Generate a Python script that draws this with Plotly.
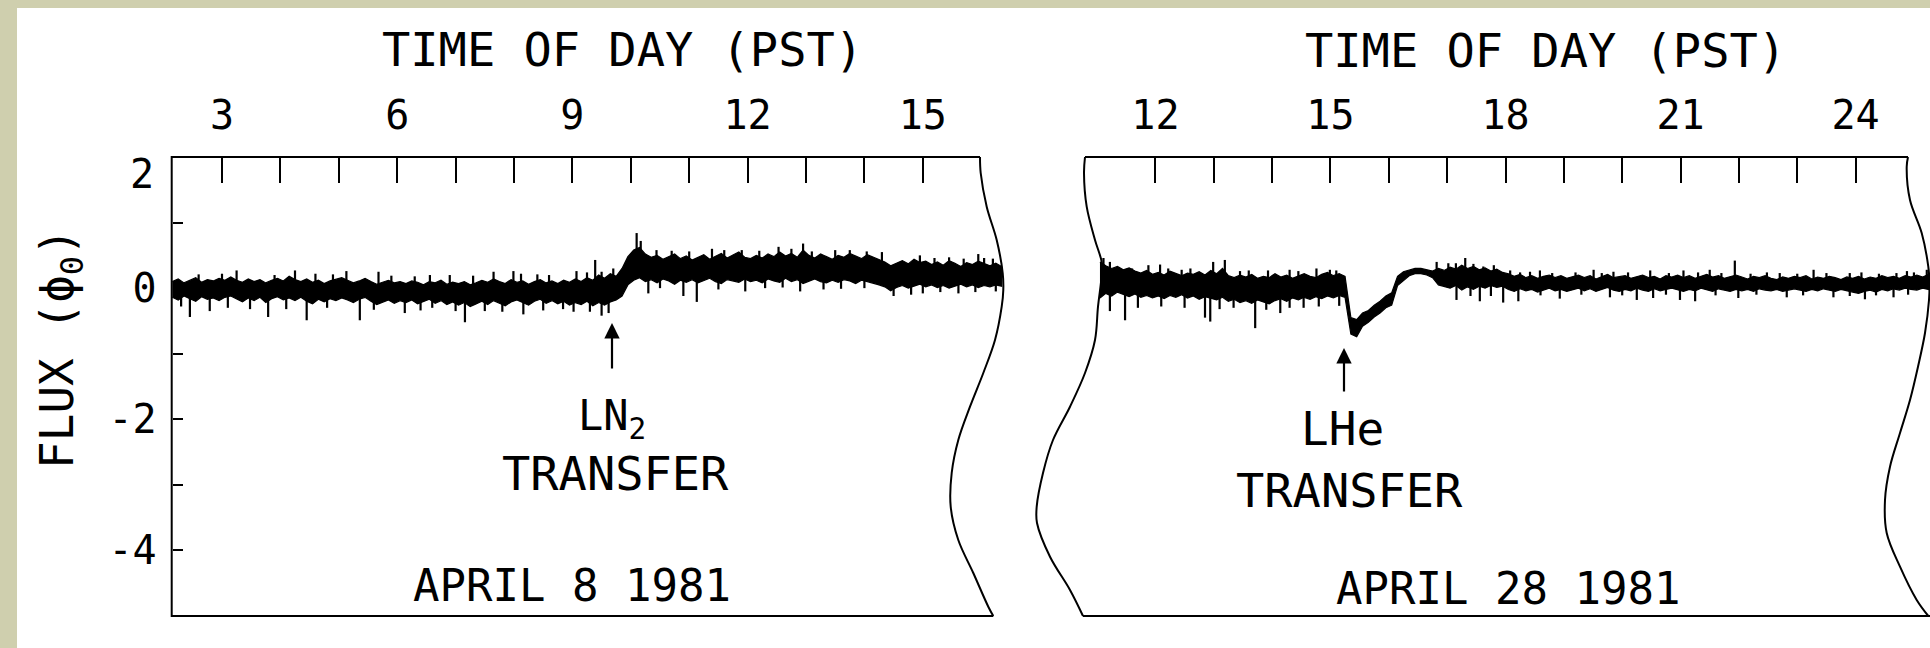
import numpy as np
import plotly.graph_objects as go

W, H = 1930, 648
FONT = "DejaVu Sans Mono, Liberation Mono, monospace"
TICK_FONT = "DejaVu Sans Mono, Liberation Mono, monospace"

# ---------------- data ----------------
# April 8 1981 : SQUID flux record (phi_0) vs time of day, sampled every 0.1 h
apr8_hours = [round(2.15 + 0.1 * i, 2) for i in range(143)]
apr8_upper = [
    0.10, 0.14, 0.08, 0.12, 0.16, 0.09, 0.13, 0.11, 0.15, 0.12,
    0.17, 0.12, 0.09, 0.14, 0.10, 0.13, 0.08, 0.12, 0.15, 0.11,
    0.18, 0.13, 0.10, 0.14, 0.09, 0.12, 0.07, 0.11, 0.13, 0.16,
    0.12, 0.08, 0.11, 0.15, 0.10, 0.06, 0.09, 0.12, 0.08, 0.10,
    0.07, 0.11, 0.09, 0.05, 0.10, 0.08, 0.12, 0.06, 0.09, 0.07,
    0.10, 0.05, 0.08, 0.12, 0.09, 0.14, 0.10, 0.07, 0.13, 0.09,
    0.11, 0.06, 0.10, 0.13, 0.08, 0.11, 0.07, 0.12, 0.09, 0.14,
    0.10, 0.16, 0.12, 0.20, 0.15, 0.22, 0.18, 0.30, 0.48, 0.58,
    0.62, 0.52, 0.47, 0.50, 0.44, 0.48, 0.52, 0.45, 0.49, 0.43,
    0.47, 0.51, 0.44, 0.48, 0.53, 0.46, 0.50, 0.55, 0.47, 0.45,
    0.50, 0.46, 0.52, 0.48, 0.55, 0.49, 0.53, 0.47, 0.58, 0.50,
    0.46, 0.52, 0.48, 0.44, 0.50, 0.47, 0.53, 0.49, 0.45, 0.51,
    0.47, 0.43, 0.40, 0.34, 0.38, 0.42, 0.37, 0.44, 0.39, 0.41,
    0.36, 0.40, 0.35, 0.42, 0.38, 0.33, 0.39, 0.36, 0.41, 0.37,
    0.34, 0.38, 0.33,
]
apr8_lower = [
    -0.14, -0.18, -0.12, -0.16, -0.20, -0.13, -0.17, -0.15, -0.19, -0.14,
    -0.12, -0.17, -0.21, -0.15, -0.19, -0.14, -0.22, -0.16, -0.13, -0.18,
    -0.15, -0.19, -0.14, -0.20, -0.24, -0.17, -0.21, -0.16, -0.19, -0.15,
    -0.18, -0.22, -0.17, -0.14, -0.20, -0.25, -0.21, -0.18, -0.23, -0.19,
    -0.22, -0.18, -0.24, -0.20, -0.17, -0.23, -0.19, -0.25, -0.21, -0.26,
    -0.22, -0.28, -0.24, -0.20, -0.25, -0.19, -0.23, -0.27, -0.21, -0.18,
    -0.22, -0.26, -0.20, -0.17, -0.23, -0.19, -0.24, -0.20, -0.26, -0.22,
    -0.25, -0.20, -0.27, -0.22, -0.26, -0.21, -0.18, -0.12, 0.05, 0.12,
    0.16, 0.10, 0.13, 0.08, 0.14, 0.11, 0.06, 0.12, 0.09, 0.13,
    0.08, 0.12, 0.15, 0.10, 0.07, 0.13, 0.11, 0.09, 0.14, 0.10,
    0.12, 0.08, 0.14, 0.11, 0.09, 0.15, 0.10, 0.13, 0.07, 0.11,
    0.14, 0.10, 0.08, 0.12, 0.09, 0.13, 0.11, 0.07, 0.12, 0.10,
    0.08, 0.05, 0.02, -0.04, 0.01, 0.04, 0.00, 0.03, 0.06, 0.02,
    0.05, 0.01, 0.04, 0.00, 0.03, 0.06, 0.02, 0.05, 0.01, 0.04,
    0.02, 0.05, 0.03,
]
apr8_spike_hours = [3.25, 4.25, 5.13, 5.68, 6.56, 7.65, 7.99, 9.07, 9.39, 9.50,
                    10.10, 10.17, 10.44, 11.39, 11.90, 12.53, 12.95, 13.75, 14.04,
                    14.95, 15.95, 16.20,
                    2.60, 3.00, 3.90, 4.60, 4.90, 5.90, 6.30, 6.90, 7.30, 8.12,
                    8.40, 8.60, 9.25, 9.70, 10.70, 11.00, 11.60, 12.20, 12.75,
                    13.10, 13.50, 14.30, 15.20, 15.45, 15.70, 16.05,
                    2.45, 2.79, 3.48, 3.79, 4.45, 5.36, 6.13, 6.60, 7.16, 7.50,
                    8.16, 8.84, 9.02, 9.50, 9.62, 10.30, 10.90, 11.13, 11.96,
                    12.90, 13.30, 14.50, 14.80, 15.61,
                    2.30, 3.10, 4.10, 4.80, 5.60, 6.40, 7.00, 7.80, 8.50, 9.30,
                    10.50, 11.50, 12.30, 12.60, 13.60, 14.00, 15.00, 15.30, 15.90, 16.25]
apr8_spike_tips = [0.27, 0.27, 0.26, 0.25, 0.20, 0.25, 0.26, 0.26, 0.43, 0.25,
                   0.84, 0.72, 0.58, 0.60, 0.58, 0.63, 0.68, 0.58, 0.56,
                   0.50, 0.52, 0.45,
                   0.21, 0.22, 0.20, 0.22, 0.21, 0.19, 0.18, 0.20, 0.19, 0.22,
                   0.21, 0.20, 0.24, 0.30, 0.57, 0.56, 0.58, 0.57, 0.60,
                   0.56, 0.58, 0.55, 0.46, 0.47, 0.45, 0.46,
                   -0.44, -0.35, -0.32, -0.44, -0.49, -0.49, -0.38, -0.30, -0.52, -0.35,
                   -0.40, -0.32, -0.36, -0.42, -0.38, -0.08, -0.12, -0.21, -0.05,
                   -0.05, -0.02, -0.12, -0.10, -0.08,
                   -0.28, -0.30, -0.32, -0.30, -0.33, -0.34, -0.35, -0.36, -0.34, -0.36,
                   0.00, -0.02, 0.00, 0.01, -0.01, 0.00, -0.08, -0.06, -0.06, -0.05]

# April 28 1981
apr28_hours = [round(11.05 + 0.1 * i, 2) for i in range(143)]
apr28_upper = [
    0.40, 0.34, 0.30, 0.33, 0.28, 0.31, 0.26, 0.23, 0.27, 0.21,
    0.24, 0.20, 0.26, 0.22, 0.19, 0.23, 0.21, 0.25, 0.20, 0.27,
    0.22, 0.30, 0.19, 0.16, 0.20, 0.17, 0.21, 0.15, 0.18, 0.16,
    0.22, 0.17, 0.20, 0.15, 0.19, 0.22, 0.18, 0.16, 0.21, 0.24,
    0.19, 0.22, 0.18, -0.45, -0.48, -0.38, -0.34, -0.26, -0.20, -0.12,
    -0.07, 0.18, 0.25, 0.28, 0.30, 0.30, 0.28, 0.26, 0.30, 0.27,
    0.32, 0.29, 0.35, 0.30, 0.33, 0.28, 0.31, 0.26, 0.29, 0.24,
    0.22, 0.18, 0.21, 0.16, 0.19, 0.15, 0.18, 0.20, 0.16, 0.19,
    0.15, 0.18, 0.20, 0.16, 0.19, 0.14, 0.17, 0.21, 0.16, 0.18,
    0.19, 0.15, 0.17, 0.20, 0.16, 0.18, 0.14, 0.19, 0.17, 0.20,
    0.16, 0.19, 0.15, 0.18, 0.21, 0.17, 0.19, 0.15, 0.18, 0.20,
    0.17, 0.14, 0.18, 0.16, 0.19, 0.15, 0.13, 0.17, 0.15, 0.18,
    0.16, 0.19, 0.14, 0.17, 0.15, 0.18, 0.16, 0.13, 0.17, 0.15,
    0.18, 0.14, 0.17, 0.15, 0.19, 0.16, 0.18, 0.15, 0.19, 0.17,
    0.20, 0.17, 0.21,
]
apr28_lower = [
    -0.15, -0.08, -0.12, -0.06, -0.10, -0.13, -0.09, -0.14, -0.11, -0.15,
    -0.12, -0.16, -0.11, -0.14, -0.10, -0.15, -0.12, -0.17, -0.13, -0.16,
    -0.18, -0.14, -0.20, -0.17, -0.22, -0.19, -0.23, -0.18, -0.21, -0.24,
    -0.19, -0.16, -0.20, -0.15, -0.18, -0.14, -0.17, -0.13, -0.16, -0.12,
    -0.15, -0.11, -0.14, -0.70, -0.74, -0.58, -0.52, -0.44, -0.38, -0.30,
    -0.26, 0.04, 0.12, 0.19, 0.22, 0.22, 0.20, 0.16, 0.05, 0.02,
    0.00, 0.04, -0.03, 0.02, -0.02, 0.03, 0.00, 0.04, 0.01, 0.03,
    -0.02, -0.05, -0.01, -0.04, -0.02, -0.06, -0.03, 0.00, -0.04, -0.02,
    -0.05, -0.02, 0.00, -0.04, -0.01, -0.05, -0.02, 0.01, -0.03, -0.05,
    -0.02, -0.04, 0.00, -0.03, -0.05, -0.01, -0.04, -0.02, 0.00, -0.03,
    -0.05, -0.02, -0.04, 0.00, -0.03, -0.05, -0.01, -0.03, -0.05, -0.02,
    -0.04, -0.02, -0.05, -0.01, -0.03, -0.04, -0.02, -0.05, -0.03, -0.01,
    -0.03, -0.05, -0.02, -0.04, -0.01, -0.03, -0.05, -0.02, -0.04, -0.06,
    -0.08, -0.05, -0.03, -0.06, -0.02, -0.04, -0.01, -0.03, 0.00, -0.02,
    -0.03, 0.00, -0.02,
]
apr28_spike_hours = [11.11, 11.22, 11.88, 12.08, 12.22, 12.99, 13.19, 13.93, 14.76, 14.99,
                     16.82, 17.02, 17.31, 17.62, 18.08, 18.42, 18.59, 19.51, 19.85,
                     20.48, 21.05, 21.50, 21.93, 22.48, 23.28, 23.90, 24.88, 25.22,
                     11.35, 11.60, 12.45, 12.60, 13.45, 13.60, 14.30, 14.45, 15.10,
                     17.15, 17.45, 17.80, 18.25, 18.80, 19.20, 19.65, 20.10, 20.80,
                     21.30, 21.70, 22.20, 22.70, 23.00, 23.50, 24.10, 24.40, 24.70, 25.00,
                     11.22, 11.48, 12.85, 12.94, 13.34, 13.71, 14.14, 14.54, 17.16,
                     17.56, 17.96, 18.22, 18.93, 19.79, 20.25, 20.53, 20.99, 21.25,
                     21.99, 22.82, 23.62, 24.16, 24.65,
                     11.70, 12.10, 12.50, 13.10, 13.90, 14.30, 14.80, 15.15, 17.40,
                     17.75, 18.60, 19.30, 20.00, 20.75, 21.60, 22.30, 23.10, 23.90,
                     24.35, 24.90]
apr28_spike_tips = [0.46, 0.40, 0.35, 0.36, 0.30, 0.40, 0.43, 0.27, 0.30, 0.28,
                    0.40, 0.38, 0.46, 0.33, 0.27, 0.25, 0.27, 0.28, 0.25,
                    0.27, 0.27, 0.28, 0.42, 0.24, 0.28, 0.23, 0.26, 0.28,
                    0.32, 0.30, 0.28, 0.30, 0.26, 0.27, 0.28, 0.26, 0.27,
                    0.38, 0.37, 0.35, 0.24, 0.23, 0.24, 0.23, 0.24, 0.23,
                    0.24, 0.23, 0.22, 0.23, 0.22, 0.23, 0.24, 0.22, 0.23, 0.24,
                    -0.35, -0.49, -0.45, -0.51, -0.30, -0.61, -0.38, -0.30, -0.18,
                    -0.20, -0.22, -0.20, -0.16, -0.14, -0.18, -0.15, -0.18, -0.20,
                    -0.15, -0.14, -0.14, -0.17, -0.14,
                    -0.30, -0.28, -0.30, -0.32, -0.33, -0.30, -0.28, -0.27, -0.12,
                    -0.12, -0.11, -0.10, -0.11, -0.10, -0.11, -0.10, -0.11, -0.12,
                    -0.11, -0.10]

x_major_apr8 = [3, 6, 9, 12, 15]
x_minor_apr8 = [4, 5, 7, 8, 10, 11, 13, 14]
x_major_apr28 = [12, 15, 18, 21, 24]
x_minor_apr28 = [13, 14, 16, 17, 19, 20, 22, 23]
y_major = [-4, -2, 0]
y_major_text = ["-4", "-2", "0"]
y_minor = [-3, -1, 1, 2]
y_top_label = "2"          # printed just under the top corner in the original

# ---------------- geometry (pixel calibration of the page) ----------------
def pxx(x):
    return x / W

def pxy(y):
    return 1 - y / H

Y_TOP_PX, Y_BOT_PX = 157.0, 616.0            # flux +2 and -5
Y_UNIT = (Y_BOT_PX - Y_TOP_PX) / 7.0
def flux_at(py):
    return 2 - (py - Y_TOP_PX) / Y_UNIT

L_H3_PX, R_H12_PX, HOUR_PX_L, HOUR_PX_R = 222.0, 1155.4, 58.4, 58.35
def hour_l(px):
    return 3 + (px - L_H3_PX) / HOUR_PX_L
def hour_r(px):
    return 12 + (px - R_H12_PX) / HOUR_PX_R

YD = [pxy(620), pxy(153)]
YR = [flux_at(620), flux_at(153)]
XL_D = [pxx(166), pxx(1006)]
XL_R = [hour_l(166), hour_l(1006)]
XR_D = [pxx(1030), 1.0]
XR_R = [hour_r(1030), hour_r(1930)]

fig = go.Figure()

def band(hours, up, lo, xa, ya):
    xs = list(hours) + list(hours[::-1])
    ys = list(up) + list(lo[::-1])
    fig.add_trace(go.Scatter(x=xs, y=ys, fill="toself", fillcolor="black",
                             mode="lines", line=dict(color="black", width=1.2),
                             xaxis=xa, yaxis=ya, hoverinfo="skip"))

def spikes(hours, up, lo, sh, st, xa, ya):
    mid = (np.array(up) + np.array(lo)) / 2
    xs, ys = [], []
    for h, t in zip(sh, st):
        b = float(np.interp(h, hours, mid))
        xs += [h, h, None]
        ys += [b, t, None]
    fig.add_trace(go.Scatter(x=xs, y=ys, mode="lines",
                             line=dict(color="black", width=2.2),
                             xaxis=xa, yaxis=ya, hoverinfo="skip"))

def frame_line(xs, ys, xa, ya, shape="linear"):
    fig.add_trace(go.Scatter(x=xs, y=ys, mode="lines",
                             line=dict(color="black", width=2, shape=shape),
                             xaxis=xa, yaxis=ya, hoverinfo="skip"))

# wavy break edges (pixel tracing of the page outline)
left_break_px = [(980, 157), (980.7, 173), (986.7, 206.7), (996.7, 240), (1002.7, 273),
                 (1003.3, 290), (1001.7, 306.7), (995, 340), (983.3, 373), (970, 406.7),
                 (958.3, 440), (951.7, 473), (950.7, 506.7), (958.3, 540), (973.3, 573),
                 (988.3, 606.7), (993.3, 616)]
right_left_break_px = [(1085, 157), (1084, 173), (1086.7, 206.7), (1095, 240), (1101.7, 262),
                       (1101.7, 275), (1098, 306.7), (1095, 340), (1085, 373), (1070, 406.7),
                       (1053, 440), (1043, 473), (1036.7, 506.7), (1037, 523), (1050, 556.7),
                       (1070, 590), (1083, 616)]
right_right_break_px = [(1908, 157), (1906.7, 166.7), (1910, 200), (1921.7, 233), (1928.3, 266.7),
                        (1929.5, 283), (1929, 300), (1925, 333), (1918, 366.7), (1910, 400),
                        (1900, 433), (1890, 466.7), (1885, 500), (1886.7, 533), (1900, 566.7),
                        (1916.7, 600), (1928.3, 616)]

XL0 = hour_l(171.7)
frame_line([hour_l(980), XL0, XL0, hour_l(993.3)], [2, 2, -5, -5], "x", "y")
frame_line([hour_l(p[0]) for p in left_break_px], [flux_at(p[1]) for p in left_break_px],
           "x", "y", "spline")
frame_line([hour_r(1085), hour_r(1908)], [2, 2], "x2", "y2")
frame_line([hour_r(1083), hour_r(1930)], [-5, -5], "x2", "y2")
frame_line([hour_r(p[0]) for p in right_left_break_px], [flux_at(p[1]) for p in right_left_break_px],
           "x2", "y2", "spline")
frame_line([hour_r(p[0]) for p in right_right_break_px], [flux_at(p[1]) for p in right_right_break_px],
           "x2", "y2", "spline")

band(apr8_hours, apr8_upper, apr8_lower, "x", "y")
spikes(apr8_hours, apr8_upper, apr8_lower, apr8_spike_hours, apr8_spike_tips, "x", "y")
band(apr28_hours, apr28_upper, apr28_lower, "x2", "y2")
spikes(apr28_hours, apr28_upper, apr28_lower, apr28_spike_hours, apr28_spike_tips, "x2", "y2")

tickfont = dict(family=TICK_FONT, size=40, color="black")

common_x = dict(side="top", anchor="free", position=pxy(Y_TOP_PX), ticks="inside", ticklen=25,
                tickwidth=2, tickcolor="black", showline=False, showgrid=False, zeroline=False,
                tickfont=tickfont, ticklabelstandoff=20, automargin=False)
fig.update_layout(
    width=W, height=H, autosize=False,
    margin=dict(l=0, r=0, t=0, b=0, pad=0, autoexpand=False),
    paper_bgcolor="#cfcfae", plot_bgcolor="rgba(0,0,0,0)",
    showlegend=False,
    xaxis=dict(domain=XL_D, range=XL_R, tickmode="array", tickvals=x_major_apr8,
               ticktext=[str(v) for v in x_major_apr8],
               minor=dict(tickmode="array", tickvals=x_minor_apr8, ticks="inside", ticklen=25,
                          tickwidth=2, tickcolor="black", showgrid=False),
               **common_x),
    xaxis2=dict(domain=XR_D, range=XR_R, tickmode="array", tickvals=x_major_apr28,
                ticktext=[str(v) for v in x_major_apr28],
                minor=dict(tickmode="array", tickvals=x_minor_apr28, ticks="inside", ticklen=25,
                           tickwidth=2, tickcolor="black", showgrid=False),
                **common_x),
    yaxis=dict(domain=YD, range=YR, anchor="free", position=pxx(171.7), ticks="inside",
               ticklen=10, tickwidth=2, tickcolor="black", tickmode="array", tickvals=y_major,
               ticktext=y_major_text,
               minor=dict(tickmode="array", tickvals=y_minor, ticks="inside", ticklen=10,
                          tickwidth=2, tickcolor="black", showgrid=False),
               showline=False, showgrid=False, zeroline=False,
               tickfont=tickfont, ticklabelstandoff=15, automargin=False),
    yaxis2=dict(domain=YD, range=YR, anchor="x2", visible=False, automargin=False),
)

fig.add_shape(type="rect", xref="paper", yref="paper", x0=pxx(17), x1=1.0, y0=0, y1=pxy(8),
              fillcolor="white", line=dict(width=0), layer="below")

def note(text, x, y, size, angle=0, family=FONT):
    fig.add_annotation(text=text, x=pxx(x), y=pxy(y), xref="paper", yref="paper",
                       showarrow=False, textangle=angle, xanchor="center", yanchor="middle",
                       font=dict(family=family, size=size, color="black"))

note("TIME OF DAY (PST)", 622, 49, 47)
note("TIME OF DAY (PST)", 1545, 50, 47)
note("FLUX (ϕ<sub>0</sub>)", 61, 349, 46, -90)
note("LN<sub>2</sub>", 612, 418, 42)
note("TRANSFER", 615, 473, 47)
note("APRIL 8 1981", 572, 585, 44)
note("LHe", 1342, 429, 46)
note("TRANSFER", 1349, 490, 47)
note("APRIL 28 1981", 1508, 588, 44)
# top y tick label, set slightly below the corner as in the original
fig.add_annotation(text=y_top_label, x=pxx(156), y=2, xref="paper", yref="y",
                   yshift=-17, showarrow=False, xanchor="right", yanchor="middle",
                   font=dict(family=TICK_FONT, size=40, color="black"))

def arrow(xa, ya, hx, tip, tail):
    fig.add_annotation(x=hx, y=tip, ax=hx, ay=tail, xref=xa, yref=ya, axref=xa, ayref=ya,
                       text="", showarrow=True, arrowhead=2, arrowsize=1.4, arrowwidth=2.2,
                       arrowcolor="black")

arrow("x", "y", hour_l(612), flux_at(323), flux_at(370))
arrow("x2", "y2", hour_r(1344), flux_at(348), flux_at(393))

fig.write_html("out.html", config={"displayModeBar": False, "responsive": False},
               post_script="document.body.style.margin='0';")
